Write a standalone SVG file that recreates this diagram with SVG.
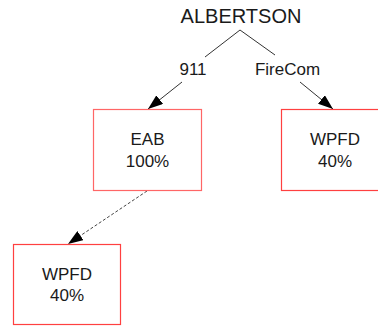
<svg xmlns="http://www.w3.org/2000/svg" width="378" height="326" viewBox="0 0 378 326">
  <style>
    .node rect { fill: #ffffff; stroke: #ff4040; stroke-width: 1.2; }
    .node text, .title, .label { font-family: "Liberation Sans", Arial, sans-serif; fill: #1a1a1a; text-anchor: middle; }
    .node text { font-size: 17px; }
    .label { font-size: 17px; }
    .title { font-size: 20px; }
    .edge { stroke: #333333; stroke-width: 1; fill: none; }
    .dashed { stroke: #444444; stroke-dasharray: 3 2; }
  </style>
  <defs>
    <marker id="arrow" viewBox="0 0 15 11" refX="15" refY="5.5" markerWidth="15" markerHeight="11" markerUnits="userSpaceOnUse" orient="auto">
      <path d="M0,0 L15,5.5 L0,11 Z" fill="#000000"/>
    </marker>
  </defs>

  <rect width="378" height="326" fill="#ffffff"/>

  <g id="root">
    <text class="title" x="241" y="22.5">ALBERTSON</text>
  </g>

  <g id="connectors">
    <!-- root to EAB, broken by the "911" label -->
    <line class="edge" x1="240" y1="30" x2="205" y2="57"/>
    <text class="label" x="193" y="75">911</text>
    <line class="edge" x1="182" y1="82" x2="148" y2="109" marker-end="url(#arrow)"/>
    <!-- root to WPFD, broken by the "FireCom" label -->
    <line class="edge" x1="240" y1="30" x2="275" y2="55"/>
    <text class="label" x="287.5" y="75">FireCom</text>
    <line class="edge" x1="300" y1="82" x2="333" y2="109" marker-end="url(#arrow)"/>
    <!-- EAB to lower WPFD -->
    <line class="edge dashed" x1="147" y1="191" x2="68" y2="244" marker-end="url(#arrow)"/>
  </g>

  <g id="node-eab" class="node">
    <rect x="93.5" y="109.5" width="108" height="81" style="stroke:#ff6666"/>
    <text x="147.5" y="145">EAB</text>
    <text x="147.5" y="167">100%</text>
  </g>

  <g id="node-wpfd-right" class="node">
    <rect x="281.5" y="109.5" width="108" height="81"/>
    <text x="335" y="145">WPFD</text>
    <text x="335" y="166.5">40%</text>
  </g>

  <g id="node-wpfd-lower" class="node">
    <rect x="13.5" y="244.5" width="107" height="80"/>
    <text x="67" y="279.5">WPFD</text>
    <text x="67" y="300.5">40%</text>
  </g>
</svg>
